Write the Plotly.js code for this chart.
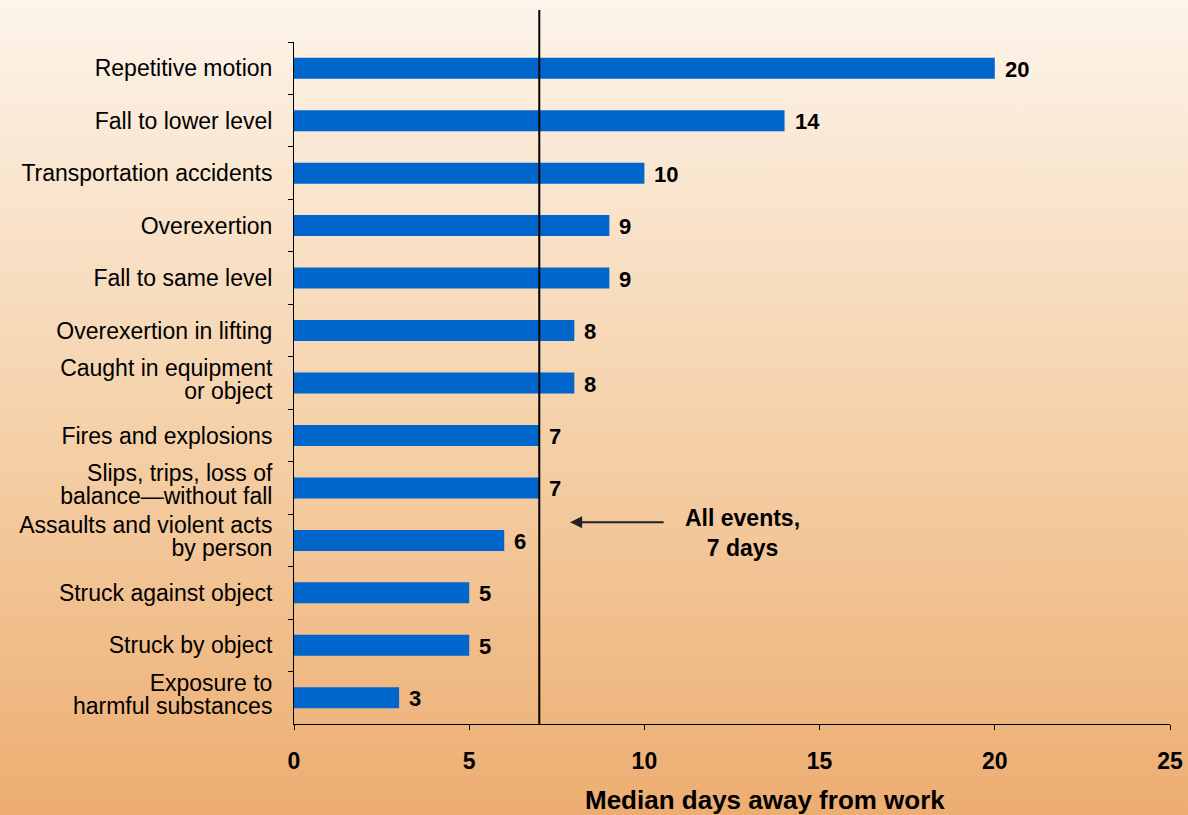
<!DOCTYPE html>
<html>
<head>
<meta charset="utf-8">
<script src="https://cdn.plot.ly/plotly-3.0.1.min.js"></script>
<style>
  html, body { margin: 0; padding: 0; width: 1188px; height: 815px; overflow: hidden; }
  body { background: linear-gradient(to bottom, #FDF4EB 0%, #F5D3AC 50%, #EDAD71 100%); }
  #chart { width: 1188px; height: 815px; }
</style>
</head>
<body>
<div id="chart"></div>
<script>
const categories = [
  "Repetitive motion",
  "Fall to lower level",
  "Transportation accidents",
  "Overexertion",
  "Fall to same level",
  "Overexertion in lifting",
  "Caught in equipment<br>or object",
  "Fires and explosions",
  "Slips, trips, loss of<br>balance\u2014without fall",
  "Assaults and violent acts<br>by person",
  "Struck against object",
  "Struck by object",
  "Exposure to<br>harmful substances"
];
const medianDays = [20, 14, 10, 9, 9, 8, 8, 7, 7, 6, 5, 5, 3];
const allEventsMedian = 7;
const xTickValues = [0, 5, 10, 15, 20, 25];
const axisTitle = "Median days away from work";
const calloutText = "All events,<br>7 days";

const FONT = "Liberation Sans, Arial, sans-serif";

const trace = {
  type: "bar",
  orientation: "h",
  y: categories,
  x: medianDays,
  marker: { color: "#0066CC" },
  hoverinfo: "x+y"
};

const valueLabels = categories.map((c, i) => ({
  x: medianDays[i], y: c, xref: "x", yref: "y",
  text: String(medianDays[i]),
  showarrow: false, xanchor: "left", xshift: 8, yshift: -1,
  font: { family: FONT, size: 22, color: "#000", weight: 700 }
}));

const layout = {
  width: 1188, height: 815,
  paper_bgcolor: "rgba(0,0,0,0)",
  plot_bgcolor: "rgba(0,0,0,0)",
  margin: { l: 294, r: 18, t: 42, b: 91 },
  bargap: 0.6,
  showlegend: false,
  font: { family: FONT, color: "#000" },
  xaxis: {
    range: [0, 25],
    tickvals: xTickValues,
    ticktext: xTickValues.map(String),
    showgrid: false, zeroline: false,
    showline: true, linecolor: "#000", linewidth: 1,
    ticks: "outside", ticklen: 5, tickcolor: "#000", tickwidth: 1,
    ticklabelstandoff: 11,
    tickfont: { size: 23, weight: 700, color: "#000" }
  },
  yaxis: {
    autorange: "reversed",
    type: "category",
    showgrid: false, zeroline: false,
    showline: true, linecolor: "#000", linewidth: 1,
    ticks: "outside", ticklen: 5, tickcolor: "#000", tickwidth: 1,
    tickson: "boundaries",
    ticklabelstandoff: 16,
    tickfont: { size: 23, color: "#000" }
  },
  shapes: [
    { type: "line", xref: "x", yref: "paper", x0: allEventsMedian, x1: allEventsMedian,
      y0: 0, y1: 1.047, line: { color: "#000", width: 2 } }
  ],
  annotations: valueLabels.concat([
    { x: 7.88, y: 0.296, xref: "x", yref: "paper",
      ax: 95, ay: 0,
      showarrow: true, arrowhead: 2, arrowsize: 1.2, arrowwidth: 2, arrowcolor: "#222",
      text: "" },
    { x: 12.79, y: 0.28, xref: "x", yref: "paper",
      text: calloutText, showarrow: false, align: "center",
      xanchor: "center", yanchor: "middle",
      font: { size: 23, weight: 700, color: "#000" } },
    { x: 13.44, y: -0.111, xref: "x", yref: "paper",
      text: axisTitle, showarrow: false, xanchor: "center", yanchor: "middle",
      font: { size: 26, weight: 700, color: "#000" } }
  ])
};

Plotly.newPlot("chart", [trace], layout, { displayModeBar: false, staticPlot: true }).then(gd => {
  // tighten the line spacing of two-line category labels, keeping them centred
  gd.querySelectorAll(".ytick text").forEach(t => {
    const lines = t.querySelectorAll("tspan.line");
    if (lines.length < 2) return;
    const before = t.getBBox();
    const cBefore = before.y + before.height / 2;
    for (let i = 1; i < lines.length; i++) lines[i].setAttribute("dy", "1.0em");
    const after = t.getBBox();
    const cAfter = after.y + after.height / 2;
    const y = parseFloat(t.getAttribute("y") || "0");
    t.setAttribute("y", y + (cBefore - cAfter));
  });
});
</script>
</body>
</html>
